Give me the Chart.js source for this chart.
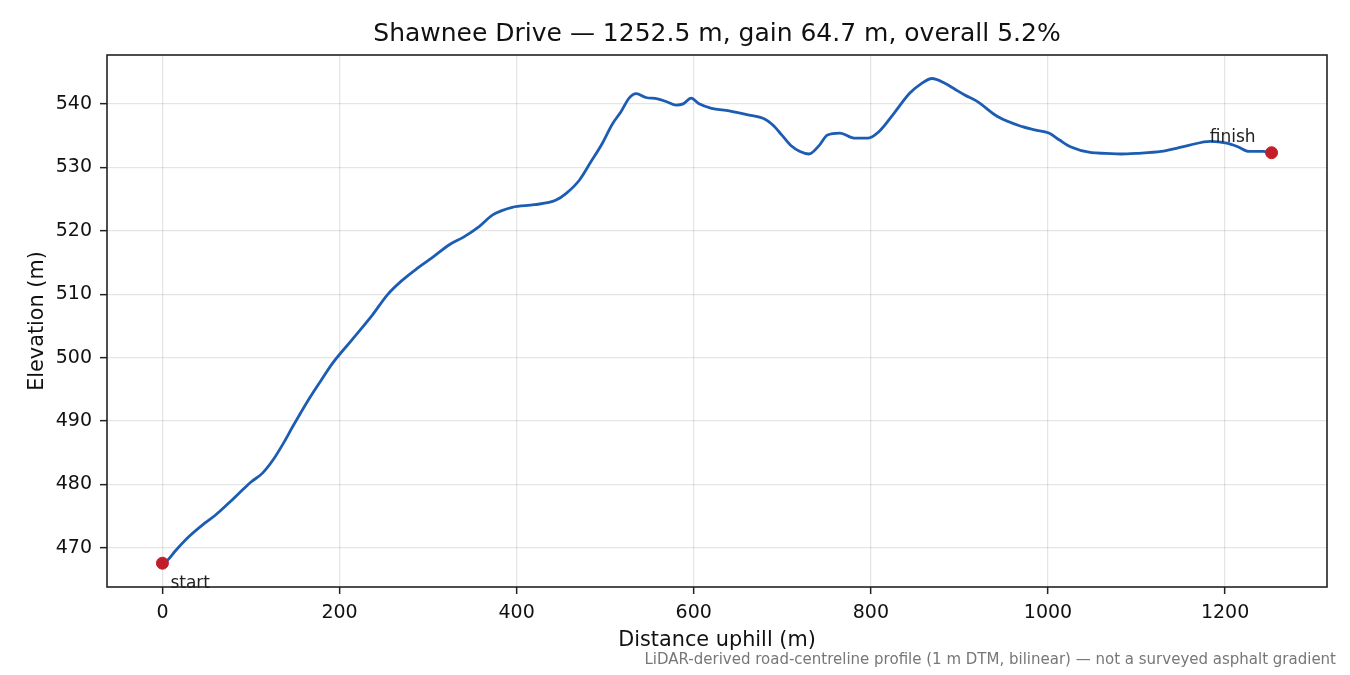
<!DOCTYPE html>
<html>
<head>
<meta charset="utf-8">
<script src="https://cdn.jsdelivr.net/npm/chart.js@4.4.1/dist/chart.umd.min.js"></script>
<style>
  html, body { margin: 0; padding: 0; background: #fff; }
  #wrap { width: 1350px; height: 675px; }
</style>
</head>
<body>
<div id="wrap"><canvas id="chart1"></canvas></div>
<script>
// profile
var distances = [0, 6, 15, 30, 45, 60, 75, 90, 100, 113, 126, 137, 147, 166, 180, 192, 214, 237, 254, 270,
  288, 305, 324, 340, 358, 373, 395, 420, 444, 456, 471, 484, 496, 508, 518, 527, 535, 546, 559, 570,
  580, 588, 597, 606, 620, 640, 660, 680, 689, 700, 710, 720, 730, 742, 751, 765, 781, 797, 809, 825,
  844, 857, 869, 883, 895, 906, 920, 943, 971, 985, 1001, 1013, 1026, 1049, 1065, 1082, 1100, 1128, 1145, 1160,
  1183, 1202, 1215, 1227, 1243, 1252.5];
var elevations = [467.6, 468.1, 469.6, 471.8, 473.6, 475.2, 477.1, 479.1, 480.4, 481.8, 484.1, 486.6, 489.1, 493.6, 496.6, 499.1, 502.8, 506.7, 509.9, 512.1,
  514.1, 515.8, 517.8, 519.0, 520.7, 522.5, 523.7, 524.1, 524.8, 525.9, 528.0, 530.9, 533.6, 536.8, 538.8, 540.9, 541.6, 541.0, 540.8, 540.3,
  539.8, 540.0, 540.9, 540.0, 539.3, 538.9, 538.3, 537.6, 536.7, 535.0, 533.4, 532.5, 532.1, 533.5, 535.1, 535.4, 534.6, 534.6, 535.6, 538.3,
  541.7, 543.2, 544.0, 543.3, 542.3, 541.4, 540.4, 538.0, 536.4, 535.9, 535.4, 534.3, 533.2, 532.3, 532.2, 532.1, 532.2, 532.5, 533.0, 533.5,
  534.1, 533.8, 533.2, 532.5, 532.5, 532.3];
var xTicks = [0, 200, 400, 600, 800, 1000, 1200];
var yTicks = [470, 480, 490, 500, 510, 520, 530, 540];
var endLabels = ['start', 'finish'];

var titleText = 'Shawnee Drive \u2014 1252.5 m, gain 64.7 m, overall 5.2%';
var footText = 'LiDAR-derived road-centreline profile (1 m DTM, bilinear) \u2014 not a surveyed asphalt gradient';
var FONT = "'DejaVu Sans', sans-serif";

var profile = distances.map(function (d, i) { return { x: d, y: elevations[i] }; });
var last = distances.length - 1;
var ends = [profile[0], profile[last]];

var frame = {
  id: 'frame',
  afterDraw: function (chart) {
    var c = chart.ctx, a = chart.chartArea;
    var xs = chart.scales.x, ys = chart.scales.y;
    c.save();

    // title, centred over the plot area
    c.fillStyle = '#111';
    c.font = '25px ' + FONT;
    c.textAlign = 'center';
    c.textBaseline = 'middle';
    c.fillText(titleText, (a.left + a.right) / 2, 34);

    // start / finish annotations
    c.fillStyle = '#222';
    c.font = '17px ' + FONT;
    c.textBaseline = 'alphabetic';
    c.textAlign = 'left';
    c.fillText(endLabels[0], xs.getPixelForValue(ends[0].x) + 8, ys.getPixelForValue(ends[0].y) + 25);
    c.textAlign = 'right';
    c.fillText(endLabels[1], xs.getPixelForValue(ends[1].x) - 16, ys.getPixelForValue(ends[1].y) - 11);

    // footnote
    c.fillStyle = '#777';
    c.font = '15px ' + FONT;
    c.textBaseline = 'middle';
    c.textAlign = 'right';
    c.fillText(footText, 1336, 660);

    // axes frame drawn on top
    c.strokeStyle = '#222';
    c.lineWidth = 1.6;
    c.strokeRect(a.left, a.top, a.right - a.left, a.bottom - a.top);
    c.restore();
  }
};

var plain = function (v) { return String(v); };

var ctx = document.getElementById('chart1').getContext('2d');
var chart = new Chart(ctx, {
  type: 'line',
  data: {
    datasets: [{
      data: profile,
      borderColor: '#1c5db3',
      borderWidth: 2.8,
      pointRadius: 0,
      cubicInterpolationMode: 'monotone',
      fill: false,
      order: 2
    }, {
      type: 'scatter',
      data: ends,
      backgroundColor: '#c31d2a',
      borderColor: '#c31d2a',
      pointRadius: 6,
      order: 1
    }]
  },
  options: {
    responsive: true,
    maintainAspectRatio: false,
    animation: false,
    layout: { padding: { left: 0, right: 23, top: 55, bottom: 0 } },
    plugins: {
      legend: { display: false },
      tooltip: { enabled: false },
      title: { display: false }
    },
    scales: {
      x: {
        type: 'linear',
        min: -62.6,
        max: 1315.1,
        afterFit: function (s) { s.height = 88; },
        afterBuildTicks: function (s) { s.ticks = xTicks.map(function (v) { return { value: v }; }); },
        border: { display: false },
        grid: { color: 'rgba(0,0,0,0.1)', lineWidth: 1.3, tickColor: '#222', tickLength: 7, tickWidth: 1.5 },
        ticks: { color: '#111', font: { family: FONT, size: 19 }, padding: 8, maxRotation: 0, callback: plain },
        title: {
          display: true,
          text: 'Distance uphill (m)',
          color: '#111',
          font: { family: FONT, size: 20.8 },
          padding: { top: 0, bottom: 22 }
        }
      },
      y: {
        type: 'linear',
        min: 463.85,
        max: 547.7,
        afterFit: function (s) { s.width = 107; },
        afterBuildTicks: function (s) { s.ticks = yTicks.map(function (v) { return { value: v }; }); },
        border: { display: false },
        grid: { color: 'rgba(0,0,0,0.1)', lineWidth: 1.3, tickColor: '#222', tickLength: 7, tickWidth: 1.5 },
        ticks: { color: '#111', font: { family: FONT, size: 19 }, padding: 8, callback: plain },
        title: {
          display: true,
          text: 'Elevation (m)',
          color: '#111',
          font: { family: FONT, size: 20.8 },
          padding: { top: 25, bottom: 0 }
        }
      }
    }
  },
  plugins: [frame]
});
</script>
</body>
</html>
